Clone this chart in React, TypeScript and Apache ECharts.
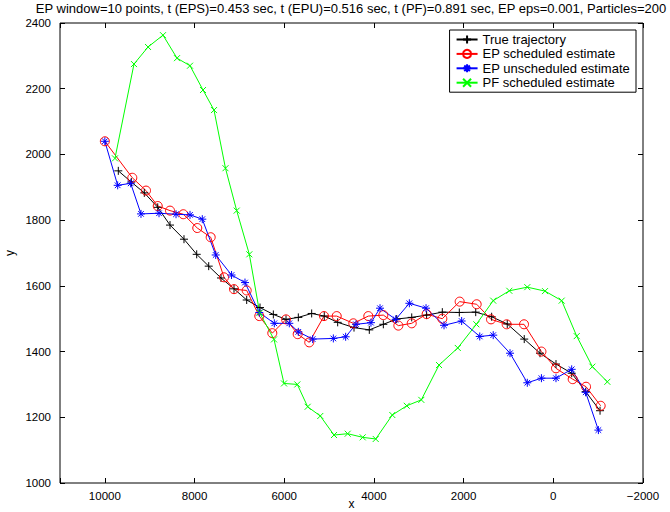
import React, { useEffect, useRef } from "react";
import * as echarts from "echarts";

const titleText =
  "EP window=10 points, t (EPS)=0.453 sec, t (EPU)=0.516 sec, t (PF)=0.891 sec, EP eps=0.001, Particles=200";

const seriesNames = [
  "True trajectory",
  "EP scheduled estimate",
  "EP unscheduled estimate",
  "PF scheduled estimate",
];

const trueX = [9700, 9410, 9120, 8821, 8547, 8235, 7952, 7684, 7410, 7120, 6837, 6540, 6243, 5960, 5686, 5388, 5107, 4808, 4444, 4103, 3790, 3492, 3157, 2825, 2475, 2096, 1730, 1375, 1027, 648, 297, -60, -410, -722, -1042];
const trueY = [1950, 1916, 1883, 1839, 1785, 1742, 1696, 1660, 1624, 1591, 1557, 1534, 1513, 1498, 1504, 1516, 1508, 1489, 1473, 1466, 1483, 1499, 1504, 1511, 1520, 1519, 1520, 1506, 1484, 1438, 1395, 1362, 1334, 1278, 1220];

const epsX = [10000, 9388, 9082, 8821, 8547, 8250, 7939, 7640, 7343, 7120, 6837, 6556, 6266, 5960, 5700, 5442, 5113, 4830, 4459, 4125, 3790, 3455, 3157, 2825, 2475, 2088, 1709, 1389, 1040, 653, 265, -60, -432, -730, -1056];
const epsY = [2040, 1929, 1890, 1843, 1829, 1818, 1776, 1748, 1626, 1590, 1586, 1508, 1456, 1498, 1453, 1428, 1508, 1508, 1486, 1508, 1511, 1479, 1486, 1514, 1500, 1552, 1544, 1498, 1483, 1483, 1400, 1349, 1316, 1293, 1235];

const epuX = [10000, 9714, 9424, 9194, 8792, 8413, 8101, 7827, 7528, 7175, 6875, 6556, 6221, 5887, 5686, 5366, 4905, 4630, 4400, 4066, 3864, 3515, 3210, 2838, 2437, 2044, 1640, 1340, 965, 580, 265, -60, -410, -722, -1005];
const epuY = [2040, 1906, 1912, 1819, 1821, 1818, 1816, 1803, 1694, 1633, 1610, 1519, 1486, 1486, 1460, 1438, 1440, 1445, 1483, 1488, 1532, 1498, 1547, 1532, 1480, 1493, 1446, 1450, 1395, 1305, 1319, 1319, 1346, 1276, 1161];

const pfX = [9774, 9350, 9037, 8703, 8391, 8101, 7811, 7566, 7310, 7060, 6778, 6548, 6228, 6005, 5708, 5477, 5196, 4890, 4585, 4250, 3960, 3590, 3268, 2943, 2548, 2130, 1716, 1340, 981, 580, 185, -187, -522, -871, -1205];
const pfY = [1988, 2275, 2327, 2363, 2293, 2270, 2196, 2135, 1958, 1829, 1696, 1518, 1437, 1303, 1300, 1232, 1204, 1146, 1150, 1139, 1134, 1207, 1235, 1253, 1359, 1411, 1483, 1555, 1585, 1596, 1584, 1555, 1447, 1354, 1308];

const xTicksMin = -2000;
const xTicksMax = 11000;
const yTicksMin = 1000;
const yTicksMax = 2400;

const FONT = "Liberation Sans, Arial, Helvetica, sans-serif";

const zip = (xs: number[], ys: number[]) => xs.map((x, i) => [x, ys[i]]);

const plusPath = "path://M0,-1L0,1M-1,0L1,0";
const starPath = "path://M0,-1L0,1M-1,0L1,0M-0.7,-0.7L0.7,0.7M-0.7,0.7L0.7,-0.7";
const crossPath = "path://M-1,-1L1,1M-1,1L1,-1";

export default function App() {
  const ref = useRef<HTMLDivElement>(null);
  useEffect(() => {
    if (!ref.current) return;
    const chart = echarts.init(ref.current, undefined, { renderer: "svg" });
    const fmtX = (v: number) => {
      if (v === 11000) return "";
      return v < 0 ? "\u2212" + Math.abs(v) : String(v);
    };
    const fmtY = (v: number) => String(v);
    const mk = (
      name: string,
      data: number[][],
      color: string,
      symbol: string,
      size: number
    ) => ({
      name,
      type: "line",
      xAxisIndex: 0,
      yAxisIndex: 0,
      data,
      symbol,
      symbolSize: size,
      showSymbol: true,
      lineStyle: { color, width: 1 },
      itemStyle: { color: "none", borderColor: color, borderWidth: 1 },
      emphasis: { disabled: true },
      z: 3,
    });
    const tick = () => ({ show: true, inside: true, length: 5, lineStyle: { color: "#000", width: 1 } });
    const noLine = () => ({ show: false, onZero: false });
    chart.setOption({
      animation: false,
      backgroundColor: "#ffffff",
      textStyle: { fontFamily: FONT },
      grid: [
        {
          left: 60,
          right: 27,
          top: 23,
          bottom: 29,
          show: true,
          borderColor: "#000",
          borderWidth: 1,
          backgroundColor: "transparent",
          containLabel: false,
          outerBoundsMode: "none",
        },
        {
          left: 60,
          right: 27,
          top: 23,
          bottom: 29,
          show: false,
          containLabel: false,
          outerBoundsMode: "none",
        },
      ],
      graphic: [
        {
          type: "text",
          x: 351,
          y: 2,
          style: {
            text: titleText,
            font: "13px " + FONT,
            textAlign: "center",
            fill: "#000",
          },
        },
      ],
      legend: {
        orient: "vertical",
        right: 34,
        top: 30,
        data: seriesNames,
        backgroundColor: "#fff",
        borderColor: "#000",
        borderWidth: 1,
        borderRadius: 0,
        padding: [3, 6, 3, 6],
        itemWidth: 21,
        itemHeight: 10,
        itemGap: 1.4,
        textStyle: { fontSize: 13, color: "#000", fontFamily: FONT, lineHeight: 13 },
      },
      xAxis: [
        {
          type: "value",
          gridIndex: 0,
          inverse: true,
          min: xTicksMin,
          max: xTicksMax,
          interval: 2000,
          name: "x",
          nameLocation: "middle",
          nameGap: 15,
          nameMoveOverlap: false,
          nameTextStyle: { fontSize: 12, color: "#000" },
          axisLine: noLine(),
          axisTick: tick(),
          axisLabel: { fontSize: 11.5, color: "#000", margin: 7, formatter: fmtX },
          splitLine: { show: false },
        },
        {
          type: "value",
          gridIndex: 1,
          position: "top",
          inverse: true,
          min: xTicksMin,
          max: xTicksMax,
          interval: 2000,
          axisLine: noLine(),
          axisTick: tick(),
          axisLabel: { show: false },
          splitLine: { show: false },
        },
      ],
      yAxis: [
        {
          type: "value",
          gridIndex: 0,
          position: "left",
          min: yTicksMin,
          max: yTicksMax,
          interval: 200,
          name: "y",
          nameLocation: "middle",
          nameGap: 44,
          nameRotate: 90,
          nameMoveOverlap: false,
          nameTextStyle: { fontSize: 12, color: "#000" },
          axisLine: noLine(),
          axisTick: tick(),
          axisLabel: { fontSize: 11.5, color: "#000", margin: 9, formatter: fmtY },
          splitLine: { show: false },
        },
        {
          type: "value",
          gridIndex: 1,
          position: "right",
          min: yTicksMin,
          max: yTicksMax,
          interval: 200,
          axisLine: noLine(),
          axisTick: tick(),
          axisLabel: { show: false },
          splitLine: { show: false },
        },
      ],
      series: [
        mk(seriesNames[0], zip(trueX, trueY), "#000000", plusPath, 8),
        mk(seriesNames[1], zip(epsX, epsY), "#ff0000", "circle", 9),
        mk(seriesNames[2], zip(epuX, epuY), "#0000ff", starPath, 8),
        mk(seriesNames[3], zip(pfX, pfY), "#00ff00", crossPath, 6),
      ],
    });
    return () => chart.dispose();
  }, []);
  return (
    <div
      ref={ref}
      style={{ position: "fixed", left: 0, top: 0, width: 670, height: 512, background: "#fff" }}
    />
  );
}
